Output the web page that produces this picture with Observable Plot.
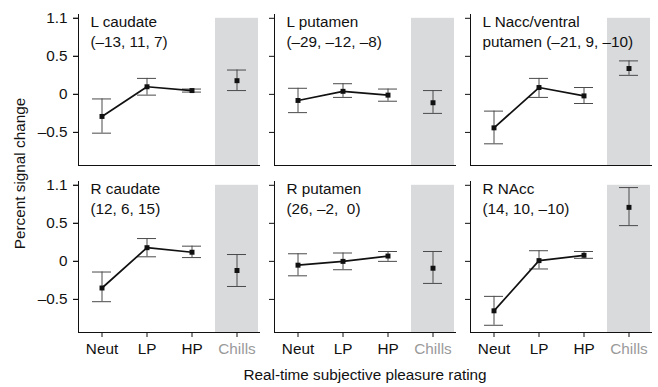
<!DOCTYPE html>
<html>
<head>
<meta charset="utf-8">
<script src="https://cdn.jsdelivr.net/npm/d3@7"></script>
<script src="https://cdn.jsdelivr.net/npm/@observablehq/plot@0.6"></script>
<style>
  html, body { margin: 0; padding: 0; background: #fff; }
  #chart svg { display: block; }
</style>
</head>
<body>
<div id="chart"></div>
<script>
// ---- data ----
const conditions = ["Neut", "LP", "HP", "Chills"];
const hemispheres = ["L", "R"];
const structures = ["caudate", "putamen", "NAcc"];
const titles = [
  "L caudate\n(–13, 11, 7)",
  "L putamen\n(–29, –12, –8)",
  "L Nacc/ventral\nputamen (–21, 9, –10)",
  "R caudate\n(12, 6, 15)",
  "R putamen\n(26, –2,\u00a0 0)",
  "R NAcc\n(14, 10, –10)"
];
// mean percent signal change per panel, per condition (Neut, LP, HP, Chills)
const means = [
  [-0.29, 0.10, 0.05, 0.18],
  [-0.08, 0.04, -0.01, -0.11],
  [-0.44, 0.09, -0.02, 0.34],
  [-0.35, 0.18, 0.12, -0.12],
  [-0.05, 0.00, 0.07, -0.09],
  [-0.65, 0.01, 0.08, 0.71]
];
const lows = [
  [-0.51, -0.01, 0.03, 0.05],
  [-0.24, -0.04, -0.09, -0.25],
  [-0.65, -0.04, -0.12, 0.25],
  [-0.53, 0.06, 0.05, -0.33],
  [-0.19, -0.11, 0.00, -0.29],
  [-0.84, -0.10, 0.04, 0.47]
];
const highs = [
  [-0.06, 0.21, 0.07, 0.32],
  [0.08, 0.14, 0.07, 0.05],
  [-0.22, 0.21, 0.09, 0.44],
  [-0.14, 0.30, 0.20, 0.09],
  [0.10, 0.11, 0.13, 0.13],
  [-0.46, 0.14, 0.13, 0.97]
];
const yTickValues = [-0.5, 0, 0.5, 1.0];
const yTickLabels = ["–0.5", "0", "0.5", "1.1"];
const yDomain = [-0.935, 1.05];
const shadeTop = 1.0;
const xTitle = "Real-time subjective pleasure rating";
const yTitle = "Percent signal change";

// ---- build tables ----
const table = [];
means.forEach((row, i) => {
  row.forEach((m, j) => {
    table.push({
      panel: i,
      hemi: hemispheres[Math.floor(i / 3)],
      struct: structures[i % 3],
      cond: conditions[j],
      mean: m,
      lo: lows[i][j],
      hi: highs[i][j]
    });
  });
});
const titleTable = titles.map((t, i) => ({
  title: t,
  hemi: hemispheres[Math.floor(i / 3)],
  struct: structures[i % 3]
}));
const shade = [{cond: "Chills", y1: yDomain[0], y2: shadeTop}];
const tickLabel = d => yTickLabels[yTickValues.indexOf(d)];

const black = "#111";
const errColor = "#4a4a4a";
const fs = 15.3;

const chart = Plot.plot({
  width: 658,
  height: 387,
  marginLeft: 78,
  marginRight: 6,
  marginTop: 13,
  marginBottom: 54,
  style: {fontFamily: "'Liberation Sans', Arial, sans-serif", fontSize: fs + "px", background: "#fff", color: black},
  fx: {domain: structures, paddingInner: 0.0764, paddingOuter: 0, axis: null},
  fy: {domain: hemispheres, paddingInner: 0.095, paddingOuter: 0, axis: null},
  x: {domain: conditions, type: "band", paddingInner: 0.05, paddingOuter: 0},
  y: {domain: yDomain},
  marks: [
    Plot.barY(shade, {x: "cond", y1: "y1", y2: "y2", fill: "#d9dadc"}),
    Plot.frame({anchor: "left", stroke: black}),
    Plot.frame({anchor: "bottom", stroke: black}),
    Plot.axisY({ticks: yTickValues, tickFormat: tickLabel, facetAnchor: "left", tickSize: 5, tickPadding: 6, label: null, fontSize: fs, stroke: black, fill: black}),
    Plot.axisY({ticks: yTickValues, facetAnchor: null, tickSize: 5, fill: "none", label: null, stroke: black}),
    Plot.axisX({ticks: ["Neut", "LP", "HP"], facetAnchor: "bottom", tickSize: 5, tickPadding: 6, label: null, fontSize: fs, stroke: black, fill: black}),
    Plot.axisX({ticks: ["Chills"], facetAnchor: "bottom", tickSize: 5, tickPadding: 6, label: null, fontSize: fs, stroke: black, fill: "#9a9a9a"}),
    Plot.ruleX(table, {x: "cond", y1: "lo", y2: "hi", fx: "struct", fy: "hemi", stroke: errColor, strokeWidth: 1}),
    Plot.tickY(table, {x: "cond", y: "lo", fx: "struct", fy: "hemi", stroke: errColor, strokeWidth: 1, insetLeft: 12, insetRight: 12}),
    Plot.tickY(table, {x: "cond", y: "hi", fx: "struct", fy: "hemi", stroke: errColor, strokeWidth: 1, insetLeft: 12, insetRight: 12}),
    Plot.line(table.filter(d => d.cond !== "Chills"), {x: "cond", y: "mean", z: "panel", fx: "struct", fy: "hemi", stroke: black, strokeWidth: 1.7}),
    Plot.dot(table, {x: "cond", y: "mean", fx: "struct", fy: "hemi", symbol: "square", r: 2.8, fill: black, stroke: "none"}),
    Plot.text(titleTable, {text: "title", fx: "struct", fy: "hemi", frameAnchor: "top-left", textAnchor: "start", lineAnchor: "top", dx: 12, dy: -2, lineHeight: 1.33, fontSize: fs, fill: black}),
    Plot.text([yTitle], {text: d => d, fx: () => "caudate", fy: () => "L", frameAnchor: "bottom-left", rotate: -90, textAnchor: "middle", lineAnchor: "middle", dx: -58, dy: 8, fontSize: fs, fill: black}),
    Plot.text([xTitle], {text: d => d, fx: () => "putamen", fy: () => "R", frameAnchor: "bottom", textAnchor: "middle", lineAnchor: "middle", dy: 43, fontSize: fs, fill: black})
  ]
});
document.getElementById("chart").appendChild(chart);
</script>
</body>
</html>
